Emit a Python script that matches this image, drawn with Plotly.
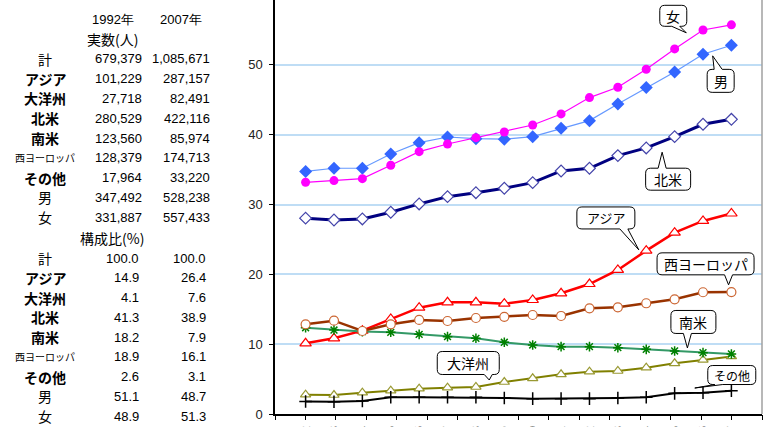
import plotly.graph_objects as go

# 年次
years = [str(y) for y in range(1992, 2008)]

# 出国者数の推移(万人)
asia = [10.12, 10.84, 11.94, 13.61, 15.23, 16.0, 16.0, 15.8, 16.33, 17.29, 18.62, 20.63, 23.4, 25.98, 27.65, 28.72]
oceania = [2.77, 2.72, 3.06, 3.34, 3.63, 3.77, 3.87, 4.58, 5.11, 5.68, 6.06, 6.16, 6.64, 7.26, 7.74, 8.25]
north_america = [28.05, 27.79, 27.94, 28.9, 30.09, 31.13, 31.7, 32.34, 33.14, 34.81, 35.2, 37.01, 38.11, 39.73, 41.5, 42.21]
south_america = [12.36, 12.03, 11.8, 11.7, 11.41, 11.08, 10.84, 10.27, 9.89, 9.65, 9.65, 9.5, 9.26, 9.03, 8.79, 8.60]
west_europe = [12.84, 13.37, 11.89, 12.85, 13.47, 13.32, 13.75, 13.92, 14.18, 14.04, 15.14, 15.28, 15.86, 16.43, 17.44, 17.47]
others = [1.80, 1.76, 1.86, 2.39, 2.39, 2.39, 2.39, 2.3, 2.2, 2.2, 2.2, 2.29, 2.39, 2.96, 3.06, 3.32]
male = [34.75, 35.2, 35.2, 37.25, 38.87, 39.68, 39.44, 39.36, 39.73, 40.93, 42.02, 44.41, 46.75, 49.0, 51.53, 52.82]
female = [33.19, 33.43, 33.71, 35.63, 37.58, 38.68, 39.58, 40.4, 41.4, 42.98, 45.32, 46.8, 49.38, 52.29, 55.01, 55.74]

# 左側の表
table_rows = ["計", "アジア", "大洋州", "北米", "南米", "西ヨーロッパ", "その他", "男", "女"]
count_1992 = [679379, 101229, 27718, 280529, 123560, 128379, 17964, 347492, 331887]
count_2007 = [1085671, 287157, 82491, 422116, 85974, 174713, 33220, 528238, 557433]
share_1992 = [100.0, 14.9, 4.1, 41.3, 18.2, 18.9, 2.6, 51.1, 48.9]
share_2007 = [100.0, 26.4, 7.6, 38.9, 7.9, 16.1, 3.1, 48.7, 51.3]
bold_rows = {"アジア", "大洋州", "北米", "南米", "その他"}

# 図の枠(ピクセル)
W, H = 771, 427
PL, PR, PB = 275, 762, 414
YMAX = 59.3

JP = "Noto Sans CJK JP, sans-serif"
NUM = "Liberation Sans, Arial, sans-serif"

fig = go.Figure()

series = [
    ("アジア", asia, dict(color="#FF0000", width=2.5),
     dict(symbol="triangle-up", size=10, color="white", line=dict(color="#FF0000", width=1.2))),
    ("大洋州", oceania, dict(color="#808000", width=2),
     dict(symbol="triangle-up", size=9, color="white", line=dict(color="#999933", width=1.2))),
    ("北米", north_america, dict(color="#000080", width=3),
     dict(symbol="diamond", size=9, color="white", line=dict(color="#4444AA", width=1.2))),
    ("南米", south_america, dict(color="#339966", width=2),
     dict(symbol="asterisk-open", size=8, color="#008000", line=dict(color="#008000", width=1.5))),
    ("西ヨーロッパ", west_europe, dict(color="#993300", width=2.5),
     dict(symbol="circle", size=9, color="white", line=dict(color="#CC6633", width=1.2))),
    ("その他", others, dict(color="#000000", width=2),
     dict(symbol="cross-thin-open", size=9, color="black", line=dict(color="#000000", width=1.5))),
    ("男", male, dict(color="#6699FF", width=1.2),
     dict(symbol="diamond", size=10, color="#3366FF", line=dict(color="#3366FF", width=0))),
    ("女", female, dict(color="#FF00FF", width=1.2),
     dict(symbol="circle", size=9, color="#FF00FF", line=dict(color="#FF00FF", width=0))),
]
for name, vals, ln, mk in series:
    fig.add_trace(go.Scatter(x=years, y=vals, name=name, mode="lines+markers",
                             line=ln, marker=mk, showlegend=False, cliponaxis=False))

# 吹き出し: (文字, 指す位置のカテゴリ番号, 値, 箱中心までのずれ, 箱の幅, 高さ, 文字サイズ)
callouts = [
    ("女", 13.41, 54.6, -13, -17, 27, 21, 14),
    ("男", 14.34, 51.3, 8, 25, 27, 23, 14),
    ("北米", 12.56, 37.5, 6, 27, 45, 22, 14),
    ("アジア", 11.74, 23.5, -33, -32, 58, 22, 13),
    ("西ヨーロッパ", 14.9, 18.5, -23, -21, 97, 22, 14),
    ("南米", 13.45, 9.46, 6, -26, 45, 23, 14),
    ("その他", 13.71, 3.72, 37, -13, 48, 19, 12),
    ("大洋州", 6.47, 4.87, -21, -17, 62, 23, 14),
]


def bubble_path(ax, ay, w, h, r=5, half=4):
    """角丸の吹き出し(先端が原点)。座標は画面ピクセルで、下向きが正。"""
    L, R, T, B = ax - w / 2, ax + w / 2, ay - h / 2, ay + h / 2
    bx = min(max(0, L + r + half + 2), R - r - half - 2)

    def p(x, y):
        return f"{x:.1f},{-y:.1f}"

    d = f"M{p(L + r, T)}"
    if T > 0:  # 先端は箱の上側
        d += f" L{p(bx - half, T)} L{p(0, 0)} L{p(bx + half, T)}"
    d += f" L{p(R - r, T)} Q{p(R, T)} {p(R, T + r)} L{p(R, B - r)} Q{p(R, B)} {p(R - r, B)}"
    if B < 0:  # 先端は箱の下側
        d += f" L{p(bx + half, B)} L{p(0, 0)} L{p(bx - half, B)}"
    d += f" L{p(L + r, B)} Q{p(L, B)} {p(L, B - r)} L{p(L, T + r)} Q{p(L, T)} {p(L + r, T)} Z"
    return d


for text, xi, yv, ax, ay, w, h, fs in callouts:
    fig.add_shape(type="path", xref="x", yref="y", xsizemode="pixel", ysizemode="pixel",
                  xanchor=xi, yanchor=yv, path=bubble_path(ax, ay, w, h),
                  line=dict(color="black", width=1), fillcolor="white", layer="above")
    fig.add_annotation(x=xi, y=yv, xref="x", yref="y", text=text, showarrow=False,
                       xshift=ax, yshift=-ay, xanchor="center", yanchor="middle",
                       font=dict(family=JP, size=fs, color="black"))


def px_x(px):
    return (px - PL) / (PR - PL)


def px_y(py):
    return (PB - py) / PB


def put(text, x, y, anchor, size, family, bold=False):
    if bold:
        text = "<b>" + text + "</b>"
    fig.add_annotation(x=px_x(x), y=px_y(y), xref="paper", yref="paper", text=text,
                       showarrow=False, xanchor=anchor, yanchor="middle",
                       font=dict(family=family, size=size, color="black"))


ROW = 19.75
put("1992年", 113, 20, "center", 13, NUM)
put("2007年", 181, 20, "center", 13, NUM)
put("実数(人)", 112, 39, "center", 14, JP)
for i, label in enumerate(table_rows):
    y = 59 + ROW * i
    small = label == "西ヨーロッパ"
    put(label, 45, y, "center", 10 if small else 14, JP, bold=label in bold_rows)
    put(f"{count_1992[i]:,}", 144, y, "right", 13, NUM)
    put(f"{count_2007[i]:,}", 212, y, "right", 13, NUM)
put("構成比(%)", 112, 238, "center", 14, JP)
for i, label in enumerate(table_rows):
    y = 258 + ROW * i
    small = label == "西ヨーロッパ"
    put(label, 45, y, "center", 10 if small else 14, JP, bold=label in bold_rows)
    put(f"{share_1992[i]:.1f}", 141, y, "right", 13, NUM)
    put(f"{share_2007[i]:.1f}", 208, y, "right", 13, NUM)

# 描画領域右端の枠線
fig.add_shape(type="line", xref="paper", yref="paper", x0=1, x1=1, y0=0, y1=1,
              line=dict(color="#A0A0A0", width=1.5))

# 年の境目の目盛り(補助の横軸)
boundaries = [i - 0.5 for i in range(len(years) + 1)]
fig.add_trace(go.Scatter(x=[boundaries[0], boundaries[-1]], y=[None, None], xaxis="x2",
                         showlegend=False, hoverinfo="skip"))

fig.update_layout(
    width=W, height=H,
    margin=dict(l=PL, r=W - PR, t=0, b=H - PB),
    plot_bgcolor="white", paper_bgcolor="white",
    xaxis=dict(type="category", ticks="outside", ticklen=5, tickcolor="rgba(0,0,0,0)",
               showline=True, linecolor="black", linewidth=1.5,
               showgrid=False, tickangle=-90, automargin=False,
               tickfont=dict(family="Liberation Sans, Arial", size=13, color="#222")),
    xaxis2=dict(overlaying="x", anchor="y", side="bottom", range=[boundaries[0], boundaries[-1]],
                tickvals=boundaries, ticks="outside", ticklen=5, tickcolor="black",
                showticklabels=False, showgrid=False, showline=False, zeroline=False,
                automargin=False),
    yaxis=dict(range=[0, YMAX], dtick=10, ticks="outside", ticklen=4, tickcolor="black",
               showline=True, linecolor="black", linewidth=1.5, gridcolor="#BFDDF5",
               gridwidth=1.5, zeroline=False, automargin=False, ticklabelstandoff=4,
               tickfont=dict(family="Liberation Sans, Arial", size=13, color="#222")),
)

fig.write_html("out.html")
